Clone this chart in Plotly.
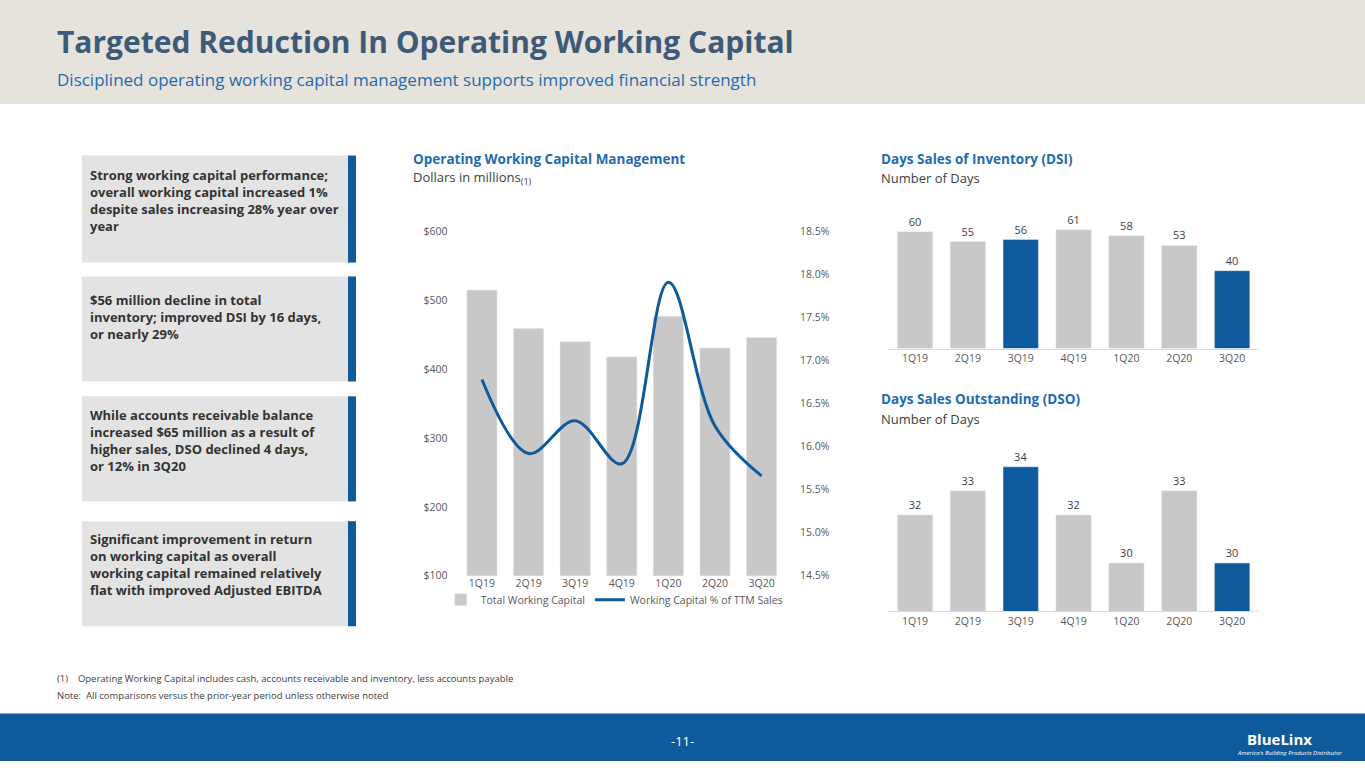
import plotly.graph_objects as go

quarters = ["1Q19", "2Q19", "3Q19", "4Q19", "1Q20", "2Q20", "3Q20"]
working_capital = [515, 459, 440, 418, 477, 431, 446]
wc_pct_sales = [16.78, 15.92, 16.30, 15.80, 17.91, 16.24, 15.66]
dsi = [60, 55, 56, 61, 58, 53, 40]
dso = [32, 33, 34, 32, 30, 33, 30]
highlight = ["3Q19", "3Q20"]
left_ticks = [100, 200, 300, 400, 500, 600]
right_ticks = [14.5, 15, 15.5, 16, 16.5, 17, 17.5, 18, 18.5]

BLUE = "#0F5A9C"
GRAY = "#C8C8C8"
FONT = "Open Sans"

def bar_colors(cats):
    return [BLUE if c in highlight else GRAY for c in cats]

fig = go.Figure()

# grafico principale
fig.add_trace(go.Bar(x=quarters, y=working_capital, marker_color=GRAY, width=0.65,
                     name="Total Working Capital", xaxis="x", yaxis="y"))
fig.add_trace(go.Scatter(x=quarters, y=wc_pct_sales, mode="lines", line=dict(color=BLUE, width=3, shape="spline"),
                         name="Working Capital % of TTM Sales", xaxis="x", yaxis="y2"))

# DSI
fig.add_trace(go.Bar(x=quarters, y=dsi, marker_color=bar_colors(quarters), width=0.67, text=dsi,
                     textposition="outside", textfont=dict(size=11, color="#404040"),
                     cliponaxis=False, showlegend=False, xaxis="x3", yaxis="y3"))
# DSO
fig.add_trace(go.Bar(x=quarters, y=dso, marker_color=bar_colors(quarters), width=0.67, text=dso,
                     textposition="outside", textfont=dict(size=11, color="#404040"),
                     cliponaxis=False, showlegend=False, xaxis="x4", yaxis="y4"))

tickf = dict(size=10.5, color="#595959", family=FONT)
fig.update_layout(
    width=1365, height=768, margin=dict(l=0, r=0, t=0, b=0),
    paper_bgcolor="white", plot_bgcolor="rgba(0,0,0,0)",
    font=dict(family=FONT, color="#404040"),
    xaxis=dict(domain=[0.336, 0.575], tickfont=tickf, showline=False, ticks=""),
    yaxis=dict(domain=[0.2435, 0.740], range=[100, 649], tickvals=left_ticks,
               ticktext=[f"${v}" for v in left_ticks], tickfont=tickf, showgrid=False, zeroline=False,
               ticklabelstandoff=10),
    yaxis2=dict(overlaying="y", side="right", range=[14.5, 18.89],
                tickvals=right_ticks, ticktext=[f"{v:.1f}%" for v in right_ticks],
                tickfont=tickf, showgrid=False, zeroline=False, ticklabelstandoff=14),
    xaxis3=dict(domain=[0.651, 0.922], anchor="y3", tickfont=tickf, showline=True, linecolor="#D9D9D9"),
    yaxis3=dict(domain=[0.542, 0.721], anchor="x3", range=[0, 70], visible=False),
    xaxis4=dict(domain=[0.651, 0.922], anchor="y4", tickfont=tickf, showline=True, linecolor="#D9D9D9"),
    yaxis4=dict(domain=[0.197, 0.434], anchor="x4", range=[28, 35.5], visible=False),
    legend=dict(orientation="h", x=0.45, xanchor="center", y=0.212, yanchor="middle",
                font=dict(size=10.5, color="#595959"), bgcolor="rgba(0,0,0,0)"),
)

shapes = [
    dict(type="rect", xref="paper", yref="paper", x0=0, x1=1, y0=1 - 105 / 768, y1=1,
         fillcolor="#E6E3DD", line_width=0, layer="below"),
    dict(type="rect", xref="paper", yref="paper", x0=0, x1=1, y0=0, y1=48 / 768,
         fillcolor=BLUE, line_width=0, layer="below"),
]
boxes = [(157, 265), (279, 385), (400, 506), (526, 632)]
for top, bot in boxes:
    shapes.append(dict(type="rect", xref="paper", yref="paper", x0=82 / 1365, x1=350 / 1365,
                       y0=1 - bot / 768, y1=1 - top / 768, fillcolor="#E3E3E3", line_width=0, layer="below"))
    shapes.append(dict(type="rect", xref="paper", yref="paper", x0=348 / 1365, x1=356 / 1365,
                       y0=1 - bot / 768, y1=1 - top / 768, fillcolor=BLUE, line_width=0, layer="below"))
fig.update_layout(shapes=shapes)

def note(x, y, text, size=13, color="#404040", bold=False, anchor="left", yanchor="middle"):
    if bold:
        text = f"<b>{text}</b>"
    fig.add_annotation(x=x / 1365, y=1 - y / 768, xref="paper", yref="paper", text=text, showarrow=False,
                       xanchor=anchor, yanchor=yanchor, align="left", font=dict(size=size, color=color, family=FONT))

note(55, 42, "Targeted Reduction In Operating Working Capital", size=30, color="#3D5A78", bold=True)
note(55, 80, "Disciplined operating working capital management supports improved financial strength", size=17, color="#1F6BB0")

note(88, 166, "Strong working capital performance;<br>overall working capital increased 1%<br>despite sales increasing 28% year over<br>year",
     size=13, color="#333333", bold=True, yanchor="top")
note(88, 292, "$56 million decline in total<br>inventory; improved DSI by 16 days,<br>or nearly 29%", size=13, color="#333333", bold=True, yanchor="top")
note(88, 408, "While accounts receivable balance<br>increased $65 million as a result of<br>higher sales, DSO declined 4 days,<br>or 12% in 3Q20",
     size=13, color="#333333", bold=True, yanchor="top")
note(88, 533, "Significant improvement in return<br>on working capital as overall<br>working capital remained relatively<br>flat with improved Adjusted EBITDA",
     size=13, color="#333333", bold=True, yanchor="top")

note(411, 160, "Operating Working Capital Management", size=13.5, color="#1F6BB0", bold=True)
note(411, 180, "Dollars in millions<sub>(1)</sub>", size=13)
note(879, 160, "Days Sales of Inventory (DSI)", size=13.5, color="#1F6BB0", bold=True)
note(879, 180, "Number of Days", size=13)
note(879, 403, "Days Sales Outstanding (DSO)", size=13.5, color="#1F6BB0", bold=True)
note(879, 423, "Number of Days", size=13)

note(55, 685, "(1)    Operating Working Capital includes cash, accounts receivable and inventory, less accounts payable", size=9.5)
note(55, 702, "Note:  All comparisons versus the prior-year period unless otherwise noted", size=9.5)
note(682, 748, "-11-", size=13, color="white", anchor="center")
note(1245, 746, "<b>BlueLinx</b>", size=15, color="white")
note(1235, 760, "<i>America's Building Products Distributor</i>", size=6, color="white")

fig.write_html("out.html", config={"displayModeBar": False})

# togli il margine di default del body
with open("out.html", encoding="utf-8") as f:
    html = f.read()
html = html.replace("<head>", "<head><style>body{margin:0;}</style>", 1)
with open("out.html", "w", encoding="utf-8") as f:
    f.write(html)
